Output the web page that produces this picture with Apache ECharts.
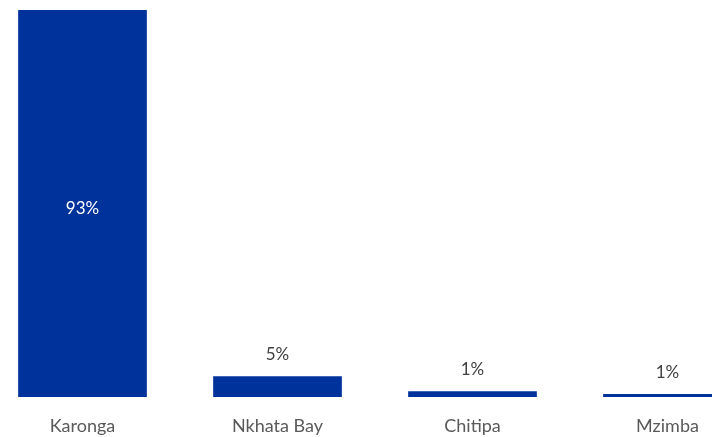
<!DOCTYPE html>
<html><head><meta charset="utf-8">
<script src="https://cdn.jsdelivr.net/npm/echarts@6/dist/echarts.min.js"></script>
<style>html,body{margin:0;padding:0;background:#fff}#c{width:712px;height:437px}</style>
</head><body><div id="c"></div>
<script>
const categories = ['Karonga', 'Nkhata Bay', 'Chitipa', 'Mzimba'];
const shares = [93, 5, 1.4, 0.7];
const chart = echarts.init(document.getElementById('c'));
chart.setOption({
  animation: false,
  grid: { left: -15, top: 10, width: 780, bottom: 40, containLabel: false, outerBoundsMode: 'none' },
  xAxis: {
    type: 'category', data: categories,
    axisLine: { show: false }, axisTick: { show: false },
    axisLabel: { color: '#595959', fontSize: 18, fontFamily: 'Lato', margin: 20 }
  },
  yAxis: { type: 'value', min: 0, max: 93, show: false, splitLine: { show: false } },
  series: [{
    type: 'bar', data: shares.map((v, i) => ({
      value: v,
      label: i === 0 ? { position: 'inside', color: '#ffffff', offset: [0, 5] } : { position: 'top', color: '#404040' }
    })),
    barCategoryGap: '34%',
    itemStyle: { color: '#00329b' },
    label: { show: true, fontSize: 17, fontFamily: 'Lato', distance: 13,
      formatter: p => Math.round(p.value) + '%' }
  }]
});
</script></body></html>
